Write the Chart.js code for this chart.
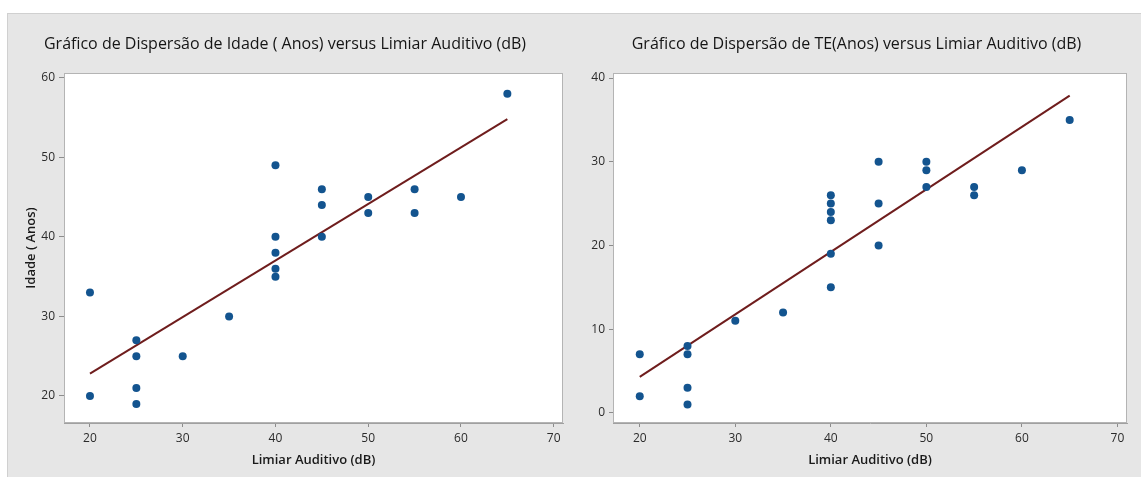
<!DOCTYPE html>
<html><head><meta charset="utf-8">
<script src="https://cdn.jsdelivr.net/npm/chart.js@4.4.0/dist/chart.umd.min.js"></script>
<style>
html,body{margin:0;padding:0;background:#fff;width:1141px;height:477px;overflow:hidden;}
#panel{position:absolute;left:7px;top:13px;width:1134px;height:464px;background:#e6e6e6;border-top:1px solid #d0d0d0;border-left:1px solid #d0d0d0;box-sizing:border-box;}
canvas{position:absolute;top:13px;}
#c1{left:7px;} #c2{left:586px;}
</style></head><body>
<div id="panel"></div>
<canvas id="c1" width="579" height="464"></canvas>
<canvas id="c2" width="555" height="464"></canvas>
<script>
// ---- data ----
const xTicks = [20, 30, 40, 50, 60, 70];
const idadeTicks = [20, 30, 40, 50, 60];
const teTicks = [0, 10, 20, 30, 40];

const limiarIdade = [20,20,25,25,25,25,30,35,40,40,40,40,40,45,45,45,50,50,55,55,60,65];
const idade       = [33,20,27,25,21,19,25,30,49,40,38,36,35,46,44,40,45,43,46,43,45,58];
const idadeFitX = [20, 65];
const idadeFitY = [22.8, 54.8];

const limiarTE = [20,20,25,25,25,25,30,35,40,40,40,40,40,40,45,45,45,50,50,50,55,55,60,65];
const te       = [7,2,8,7,3,1,11,12,26,25,24,23,19,15,30,25,20,30,29,27,27,26,29,35];
const teFitX = [20, 65];
const teFitY = [4.3, 37.9];

const title1 = 'Gráfico de Dispersão de Idade ( Anos) versus Limiar Auditivo (dB)';
const title2 = 'Gráfico de Dispersão de TE(Anos) versus Limiar Auditivo (dB)';
const xTitle = 'Limiar Auditivo (dB)';
const yTitle1 = 'Idade ( Anos)';

// ---- styling ----
Chart.defaults.font.family = "'Open Sans', 'Noto Sans', sans-serif";
const pointColor = '#13548f';
const fitColor = '#6f1d1d';

const frame = {
  id: 'frame',
  beforeDraw(chart) {
    const a = chart.chartArea, ctx = chart.ctx;
    ctx.save();
    ctx.fillStyle = '#ffffff';
    ctx.fillRect(a.left, a.top, a.right - a.left, a.bottom - a.top);
    ctx.restore();
  },
  beforeDatasetsDraw(chart) {
    const a = chart.chartArea, ctx = chart.ctx;
    ctx.save();
    ctx.strokeStyle = '#b4b4b4';
    ctx.lineWidth = 1;
    ctx.strokeRect(a.left + 0.5, a.top + 0.5, a.right - a.left - 1, a.bottom - a.top - 1);
    ctx.restore();
  }
};

function makeChart(id, p) {
  return new Chart(document.getElementById(id), {
    type: 'scatter',
    data: {
      datasets: [
        {
          data: p.xs.map((x, i) => ({x: x, y: p.ys[i]})),
          backgroundColor: pointColor, borderColor: pointColor,
          pointRadius: 4, borderWidth: 0
        },
        {
          data: p.fitX.map((x, i) => ({x: x, y: p.fitY[i]})),
          showLine: true, borderColor: fitColor, borderWidth: 2,
          pointRadius: 0, fill: false
        }
      ]
    },
    options: {
      responsive: false, animation: false, events: [],
      layout: {padding: {left: 0, right: p.padRight, top: 0, bottom: 0}},
      plugins: {
        legend: {display: false}, tooltip: {enabled: false},
        title: {display: true, text: p.title, color: '#151515',
                font: {size: 16, weight: '500', lineHeight: 1.2},
                padding: {top: 22, bottom: 18.8}}
      },
      scales: {
        x: {
          type: 'linear', min: 17.2, max: 71,
          afterBuildTicks: s => { s.ticks = xTicks.map(v => ({value: v})); },
          afterFit: s => { s.height = 54; },
          ticks: {color: '#2b2b2b', font: {size: 12}, padding: 4, maxRotation: 0},
          grid: {drawOnChartArea: false, drawTicks: true, tickLength: 4, tickColor: '#8c8c8c'},
          border: {display: true, color: '#a0a0a0'},
          title: {display: true, text: xTitle, color: '#1a1a1a',
                  font: {size: 13, weight: '600', lineHeight: 1.2},
                  padding: {top: 0, bottom: 9.2}}
        },
        y: {
          type: 'linear', min: p.yMin, max: p.yMax,
          afterBuildTicks: s => { s.ticks = p.yTicks.map(v => ({value: v})); },
          afterFit: s => { s.width = p.yWidth; },
          ticks: {color: '#2b2b2b', font: {size: 12}, padding: 4},
          grid: {drawOnChartArea: false, drawTicks: true, tickLength: p.yTickLen, tickColor: '#8c8c8c'},
          border: {display: true, color: '#a0a0a0'},
          title: {display: !!p.yTitle, text: p.yTitle || '', color: '#1a1a1a',
                  font: {size: 13, weight: '600', lineHeight: 1.2},
                  padding: {top: 16.9, bottom: 0}}
        }
      }
    },
    plugins: [frame]
  });
}

makeChart('c1', {
  xs: limiarIdade, ys: idade, fitX: idadeFitX, fitY: idadeFitY,
  title: title1, yTitle: yTitle1, yTicks: idadeTicks,
  yMin: 16.6, yMax: 60.6, yWidth: 57, yTickLen: 5, padRight: 23
});
makeChart('c2', {
  xs: limiarTE, ys: te, fitX: teFitX, fitY: teFitY,
  title: title2, yTitle: null, yTicks: teTicks,
  yMin: -1.2, yMax: 40.6, yWidth: 27, yTickLen: 4, padRight: 14
});
</script>
</body></html>
